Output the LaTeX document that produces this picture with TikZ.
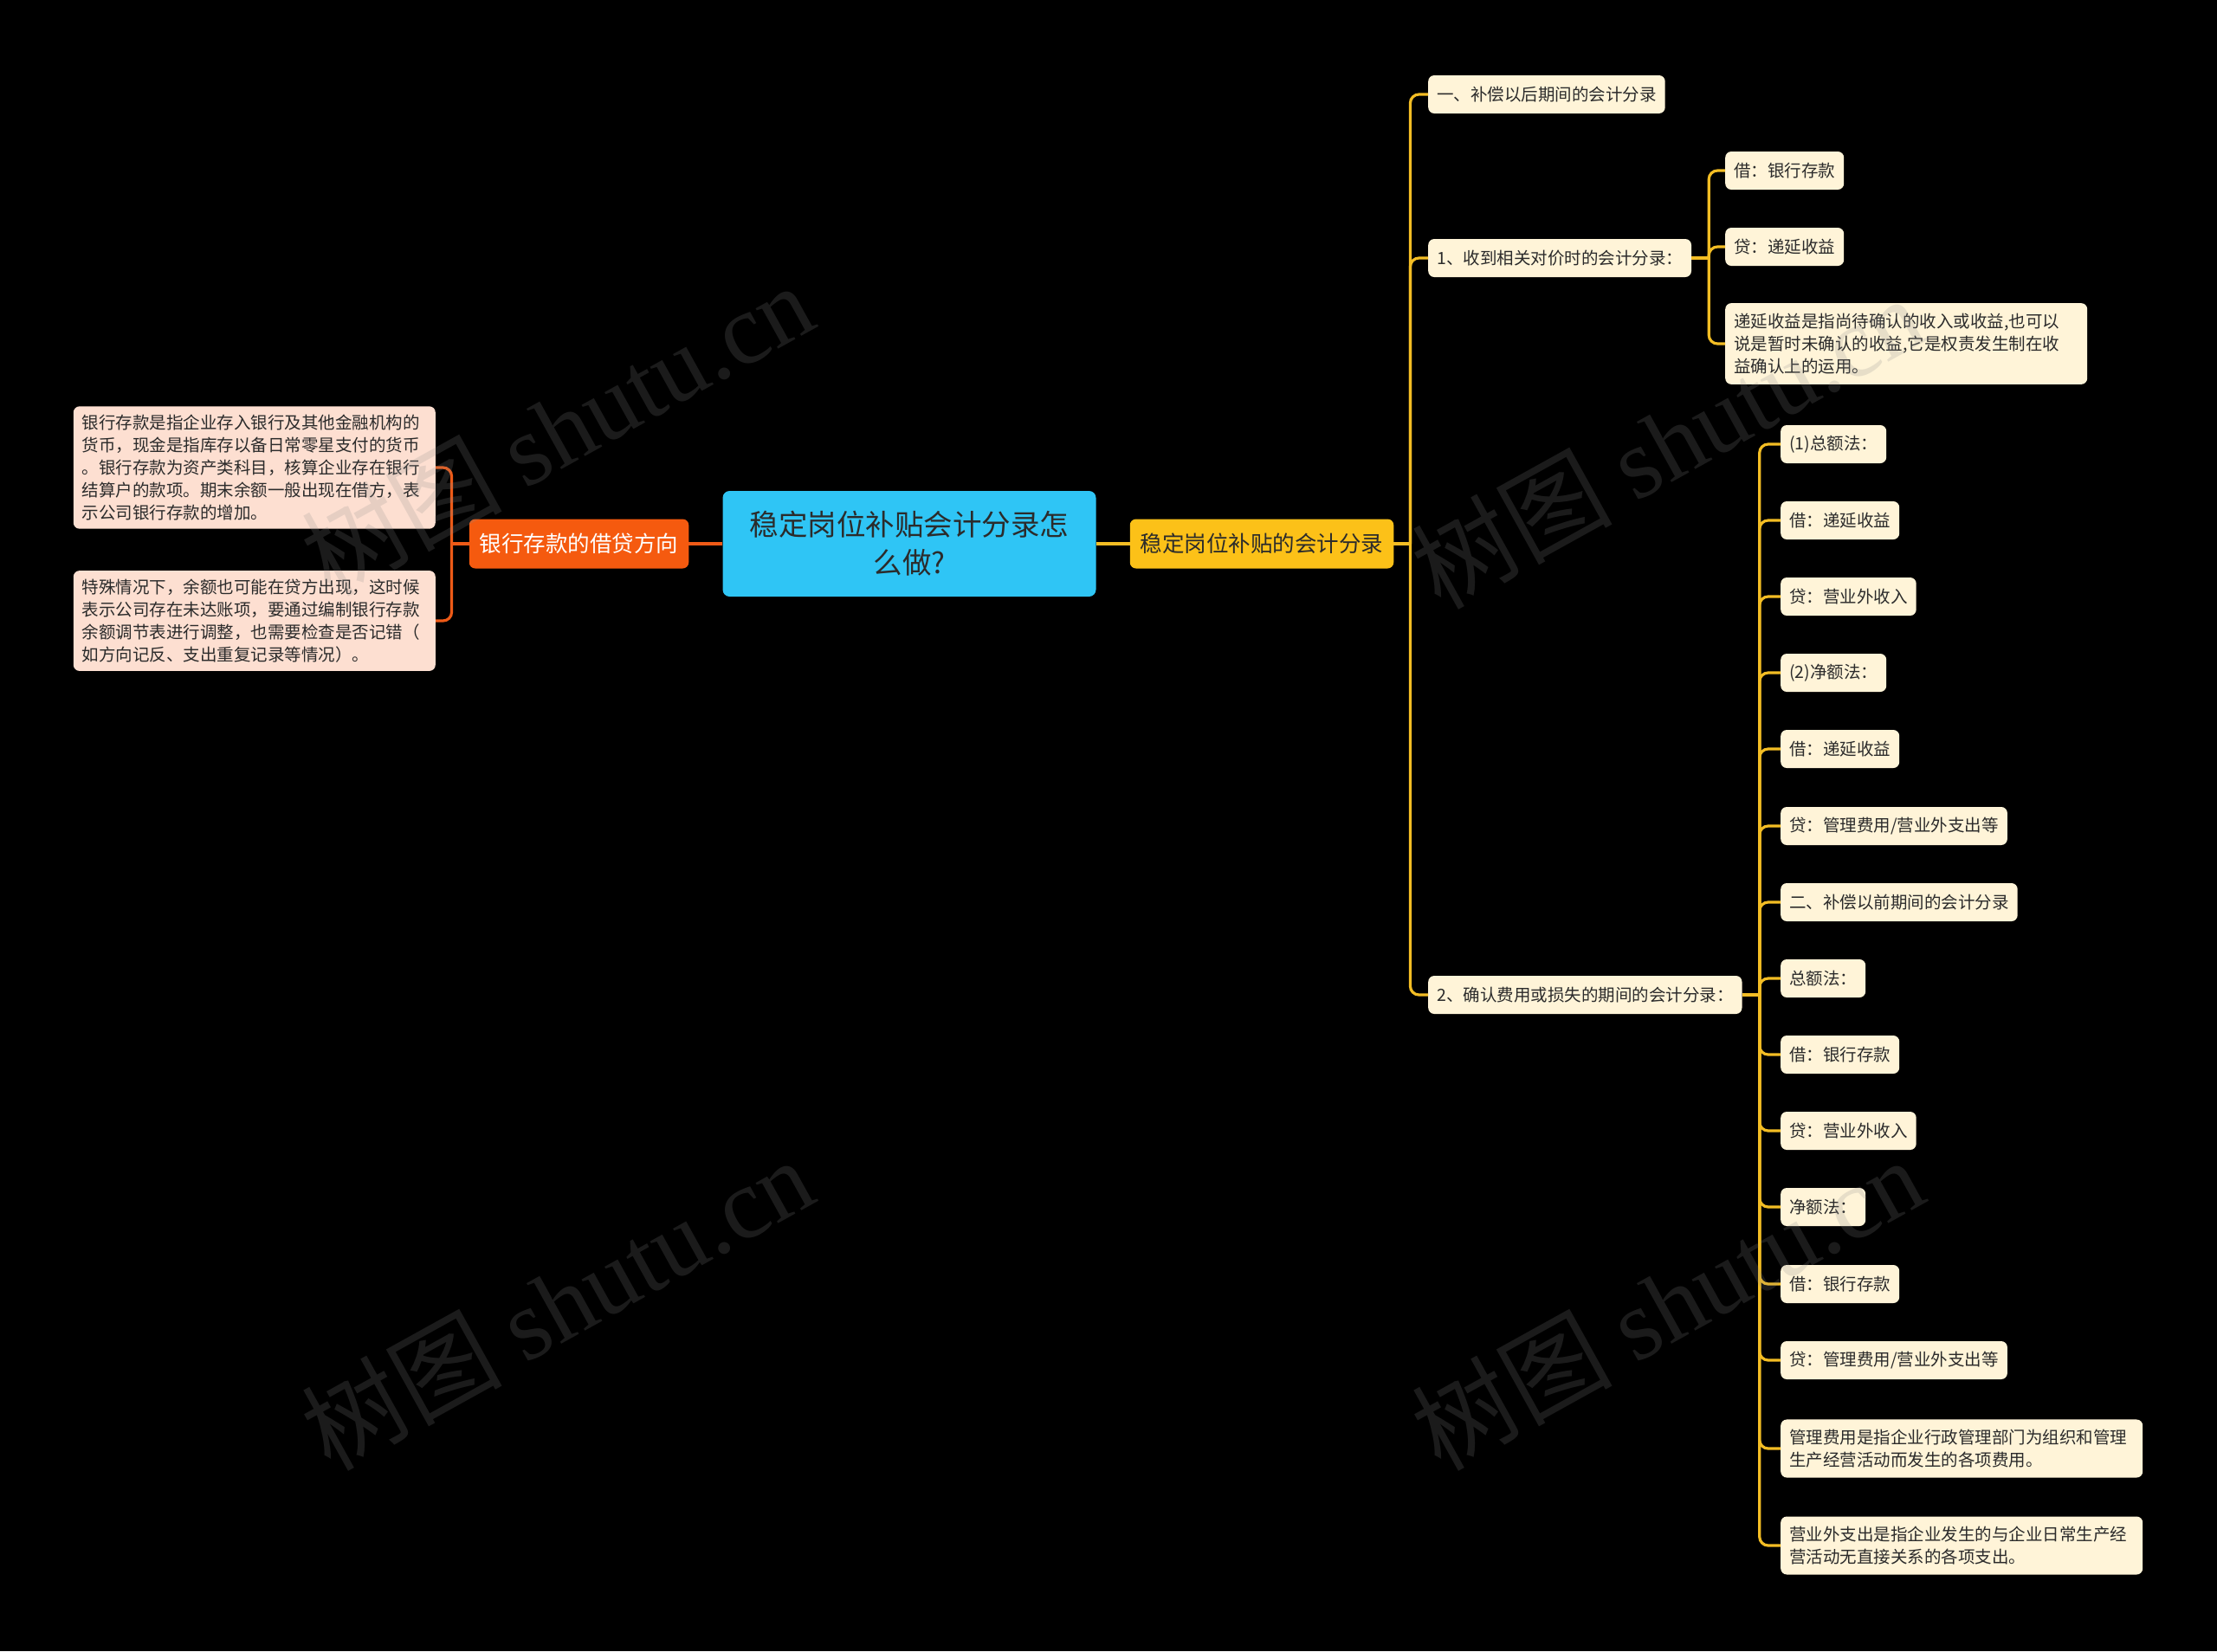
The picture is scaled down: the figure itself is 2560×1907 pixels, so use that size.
\documentclass[tikz,border=0pt]{standalone}
\usepackage{fontspec}
\setmainfont{Noto Sans CJK SC}
\newfontfamily\wmfont{Liberation Serif}
\usetikzlibrary{calc}
\definecolor{rootc}{HTML}{2FC5F5}
\definecolor{yelc}{HTML}{FCC118}
\definecolor{orgc}{HTML}{F55A0F}
\definecolor{peach}{HTML}{FDDFD1}
\definecolor{cream}{HTML}{FFF4D8}
\definecolor{yline}{HTML}{F3BD24}
\definecolor{oline}{HTML}{EE5A17}
\definecolor{txt}{HTML}{2B2B2B}
\definecolor{wmc}{HTML}{8A8A8A}
\tikzset{
  box/.style={rounded corners=7, inner xsep=10, inner ysep=0, minimum height=44,
    font=\fontsize{19.5}{25.8}\selectfont, text=txt, align=left},
  leafR/.style={box, fill=cream, anchor=west},
  leafL/.style={box, fill=peach, anchor=east},
  rootbox/.style={fill=rootc, rounded corners=8, minimum width=431, minimum height=122,
    align=center, font=\fontsize{33.5}{44}\selectfont, text=txt, inner sep=0},
  mainbox/.style={rounded corners=7, minimum height=57, inner xsep=12, inner ysep=0,
    font=\fontsize{25.5}{30}\selectfont},
  ylink/.style={draw=yline, line width=3.2, rounded corners=10},
  olink/.style={draw=oline, line width=3.2, rounded corners=10},
  wm/.style={rotate=29, text=wmc, text opacity=0.2, font=\fontsize{116}{120}\selectfont}
}
\begin{document}
\begin{tikzpicture}[x=1pt,y=-1pt]
\fill[black] (0,0) rectangle (2560,1907);
\useasboundingbox (0,0) rectangle (2560,1907);

% central and main branches
\node[rootbox] (root) at (1050,628) {稳定岗位补贴会计分录怎\\么做?};
\node[mainbox, fill=yelc, text=txt] (m) at (1457,628) {稳定岗位补贴的会计分录};
\node[mainbox, fill=orgc, text=white] (o) at (668.5,628) {银行存款的借贷方向};

% left leaves
\node[leafL, text width=398, inner ysep=10] (la) at (503,540) {银行存款是指企业存入银行及其他金融机构的\\货币，现金是指库存以备日常零星支付的货币\\。银行存款为资产类科目，核算企业存在银行\\结算户的款项。期末余额一般出现在借方，表\\示公司银行存款的增加。};
\node[leafL, text width=398, inner ysep=10] (lb) at (503,717) {特殊情况下，余额也可能在贷方出现，这时候\\表示公司存在未达账项，要通过编制银行存款\\余额调节表进行调整，也需要检查是否记错（\\如方向记反、支出重复记录等情况）。};

% level 2 right
\node[leafR] (n1) at (1649,109) {一、补偿以后期间的会计分录};
\node[leafR] (n2) at (1649,298) {1、收到相关对价时的会计分录：};
\node[leafR] (n3) at (1649,1149) {2、确认费用或损失的期间的会计分录：};

% children of n2
\node[leafR] (a1) at (1992,197) {借：银行存款};
\node[leafR] (a2) at (1992,285) {贷：递延收益};
\node[leafR, text width=398, inner ysep=12] (a3) at (1992,397) {递延收益是指尚待确认的收入或收益,也可以\\说是暂时未确认的收益,它是权责发生制在收\\益确认上的运用。};

% children of n3
\node[leafR] (b1) at (2056,513) {(1)总额法：};
\node[leafR] (b2) at (2056,601) {借：递延收益};
\node[leafR] (b3) at (2056,689) {贷：营业外收入};
\node[leafR] (b4) at (2056,777) {(2)净额法：};
\node[leafR] (b5) at (2056,865) {借：递延收益};
\node[leafR] (b6) at (2056,954) {贷：管理费用/营业外支出等};
\node[leafR] (b7) at (2056,1042) {二、补偿以前期间的会计分录};
\node[leafR] (b8) at (2056,1130) {总额法：};
\node[leafR] (b9) at (2056,1218) {借：银行存款};
\node[leafR] (b10) at (2056,1306) {贷：营业外收入};
\node[leafR] (b11) at (2056,1394) {净额法：};
\node[leafR] (b12) at (2056,1483) {借：银行存款};
\node[leafR] (b13) at (2056,1571) {贷：管理费用/营业外支出等};
\node[leafR, text width=398, inner ysep=11.5] (b14) at (2056,1673) {管理费用是指企业行政管理部门为组织和管理\\生产经营活动而发生的各项费用。};
\node[leafR, text width=398, inner ysep=11.5] (b15) at (2056,1785) {营业外支出是指企业发生的与企业日常生产经\\营活动无直接关系的各项支出。};

% connectors
\draw[ylink] (root.east) -- (m.west);
\draw[olink] (root.west) -- (o.east);

\coordinate (jo) at ($(o.west)+(-20,0)$);
\draw[olink] (o.west) -- (jo);
\foreach \n in {la,lb} \draw[olink] (jo) |- (\n.east);

\coordinate (j1) at ($(m.east)+(19,0)$);
\draw[ylink] (m.east) -- (j1);
\foreach \n in {n1,n2,n3} \draw[ylink] (j1) |- (\n.west);

\coordinate (j2) at ($(n2.east)+(20,0)$);
\draw[ylink] (n2.east) -- (j2);
\foreach \n in {a1,a2,a3} \draw[ylink] (j2) |- (\n.west);

\coordinate (j3) at ($(n3.east)+(20,0)$);
\draw[ylink] (n3.east) -- (j3);
\foreach \n in {b1,b2,b3,b4,b5,b6,b7,b8,b9,b10,b11,b12,b13,b14,b15} \draw[ylink] (j3) |- (\n.west);

% watermarks
\node[wm] (w1) at (643,495) {树图 {\wmfont shutu.cn}};
\node[wm] (w2) at (643,1505) {树图 {\wmfont shutu.cn}};
\node[wm] (w3) at (1925,510) {树图 {\wmfont shutu.cn}};
\node[wm] (w4) at (1925,1505) {树图 {\wmfont shutu.cn}};
\end{tikzpicture}
\end{document}
